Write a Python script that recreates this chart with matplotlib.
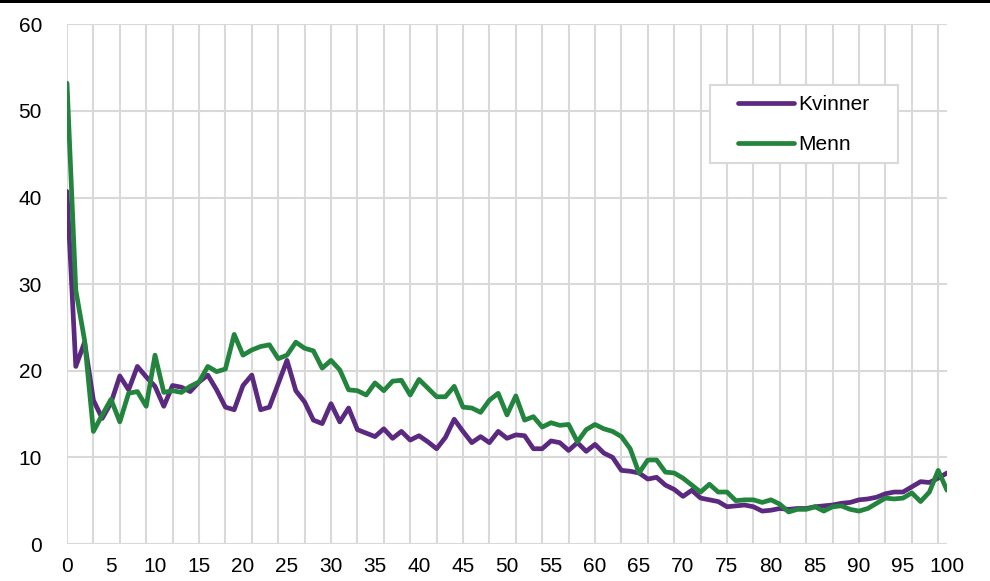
import matplotlib
matplotlib.use("Agg")
import matplotlib.pyplot as plt
from matplotlib.patches import Rectangle
import numpy as np

# -------------------------------
# Data
# -------------------------------
ages = list(range(0, 101))

kvinner = [40.7, 20.5, 23.3, 16.6, 14.5, 16.3, 19.4, 17.8, 20.5, 19.3,
           18.2, 15.9, 18.3, 18.1, 17.6, 18.7, 19.5, 17.8, 15.8, 15.5,
           18.3, 19.5, 15.5, 15.8, 18.5, 21.2, 17.7, 16.4, 14.3, 13.9,
           16.2, 14.1, 15.7, 13.2, 12.8, 12.4, 13.3, 12.2, 13.0, 12.0,
           12.5, 11.8, 11.0, 12.3, 14.4, 13.0, 11.7, 12.4, 11.7, 13.0,
           12.2, 12.6, 12.5, 11.0, 11.0, 11.9, 11.7, 10.8, 11.7, 10.7,
           11.5, 10.5, 10.0, 8.5, 8.4, 8.2, 7.5, 7.7, 6.8, 6.3,
           5.5, 6.2, 5.3, 5.1, 4.9, 4.3, 4.4, 4.5, 4.3, 3.8,
           3.9, 4.1, 4.0, 4.1, 4.1, 4.3, 4.4, 4.5, 4.7, 4.8,
           5.1, 5.2, 5.4, 5.8, 6.0, 6.0, 6.6, 7.2, 7.1, 7.6,
           8.2]

menn = [53.2, 29.3, 23.5, 13.0, 14.9, 16.7, 14.1, 17.4, 17.6, 15.9,
        21.8, 17.5, 17.7, 17.5, 18.2, 18.7, 20.5, 19.9, 20.2, 24.2,
        21.8, 22.4, 22.8, 23.0, 21.4, 21.8, 23.3, 22.6, 22.3, 20.3,
        21.2, 20.1, 17.8, 17.7, 17.2, 18.6, 17.7, 18.8, 18.9, 17.2,
        19.0, 18.0, 17.0, 17.0, 18.2, 15.8, 15.7, 15.2, 16.6, 17.4,
        14.9, 17.1, 14.3, 14.7, 13.5, 14.0, 13.7, 13.8, 11.8, 13.2,
        13.8, 13.3, 13.0, 12.4, 11.0, 8.2, 9.7, 9.7, 8.3, 8.2,
        7.6, 6.8, 6.0, 6.9, 6.0, 6.0, 5.0, 5.1, 5.1, 4.8,
        5.1, 4.6, 3.7, 4.0, 4.0, 4.3, 3.8, 4.3, 4.4, 4.0,
        3.8, 4.1, 4.7, 5.3, 5.2, 5.3, 5.9, 4.9, 6.0, 8.5,
        6.2]

x_labels = list(range(0, 101, 5))
y_ticks = list(range(0, 61, 10))

# -------------------------------
# Style
# -------------------------------
plt.rcParams['font.family'] = ['Liberation Sans', 'DejaVu Sans']
font_size = 15
grid_color = '#d9d9d9'
purple = '#5B2A80'
green = '#23843E'

W, H = 990, 581
fig = plt.figure(figsize=(W / 100, H / 100), dpi=100)
ax = fig.add_axes([67 / W, 1 - 544 / H, 880 / W, (544 - 24.3) / H])

ax.plot(ages, kvinner, color=purple, lw=3.4, label='Kvinner',
        solid_capstyle='round', solid_joinstyle='round', zorder=3)
ax.plot(ages, menn, color=green, lw=3.4, label='Menn',
        solid_capstyle='round', solid_joinstyle='round', zorder=3)

ax.set_xlim(0, 100)
ax.set_ylim(0, 60)

# labels every 5, vertical gridlines every 3 (Excel-style category axis)
ax.xaxis.remove_overlapping_locs = False
ax.set_xticks(x_labels)
ax.set_xticks(np.arange(0, 100, 3), minor=True)
ax.set_yticks(y_ticks)
ax.tick_params(axis='both', which='both', length=0, labelsize=font_size)
ax.tick_params(axis='x', pad=9)
ax.tick_params(axis='y', pad=18)

ax.grid(False)
ax.grid(axis='x', which='minor', color=grid_color, lw=1.5, zorder=0)
ax.grid(axis='y', which='major', color=grid_color, lw=1.5, zorder=0)
ax.set_axisbelow(True)
for s in ax.spines.values():
    s.set_visible(False)

# legend frame + entries
x0 = (710 - 67) / 880
x1 = (898 - 67) / 880
y0 = (544 - 163) / 519.7
y1 = (544 - 85) / 519.7
ax.add_patch(Rectangle((x0, y0), x1 - x0, y1 - y0, transform=ax.transAxes,
                       facecolor='white', edgecolor=grid_color, lw=1.5, zorder=4))
leg = ax.legend(loc='center left', bbox_to_anchor=((738 - 67) / 880, (544 - 124.5) / 519.7),
                frameon=False, fontsize=font_size, borderpad=0, borderaxespad=0,
                handlelength=2.7, handletextpad=0.2, labelspacing=1.0)
leg.set_zorder(5)

# black rule along the top edge
fig.add_artist(Rectangle((0, 1 - 3 / H), 1, 3 / H, transform=fig.transFigure,
                         facecolor='black', edgecolor='none'))

fig.savefig('out.png', dpi=100)
